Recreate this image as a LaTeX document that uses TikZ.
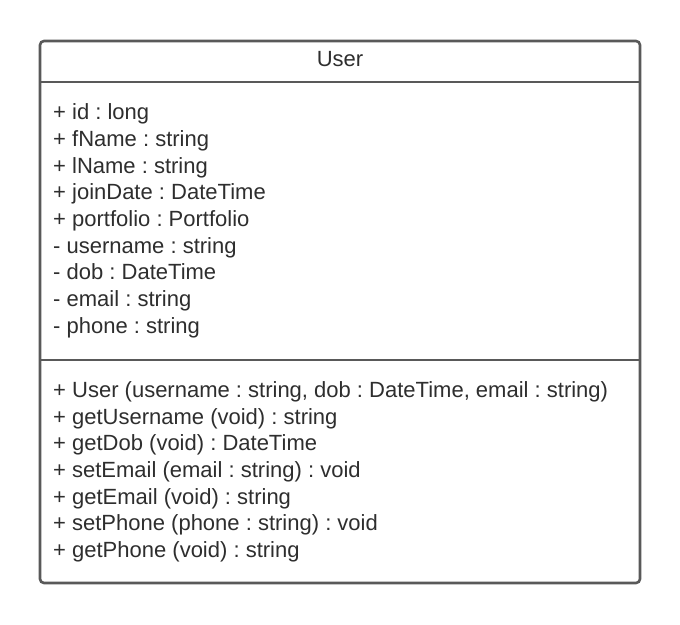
\documentclass[tikz,border=0pt]{standalone}
\usepackage{fontspec}
\setmainfont{Liberation Sans}
\frenchspacing
\begin{document}
\begin{tikzpicture}[x=1pt,y=-1pt,
  frame/.style={draw=black!65,line width=2.6pt,rounded corners=4pt},
  sep/.style={draw=black!65,line width=2.6pt},
  row/.style={anchor=base west,inner sep=0pt,text=black!82,font=\fontsize{22}{24}\selectfont},
  ttl/.style={anchor=base,inner sep=0pt,text=black!82,font=\fontsize{22}{24}\selectfont}]
\useasboundingbox (0,0) rectangle (680,624);
\path[frame,fill=white] (40,41) rectangle (640,583);
\coordinate (d1l) at (40,82); \coordinate (d1r) at (640,82);
\coordinate (d2l) at (40,360); \coordinate (d2r) at (640,360);
\draw[sep] (d1l) -- (d1r);
\draw[sep] (d2l) -- (d2r);
\node[ttl] (title) at (340,66) {User};
\node[row] (a1) at (53,119) {+ id : long};
\node[row] (a2) at (53,146) {+ fName : string};
\node[row] (a3) at (53,173) {+ lName : string};
\node[row] (a4) at (53,199) {+ joinDate : DateTime};
\node[row] (a5) at (53,226) {+ portfolio : Portfolio};
\node[row] (a6) at (53,253) {- username : string};
\node[row] (a7) at (53,279) {- dob : DateTime};
\node[row] (a8) at (53,306) {- email : string};
\node[row] (a9) at (53,333) {- phone : string};
\node[row] (m1) at (53,397) {+ User (username : string, dob : DateTime, email : string)};
\node[row] (m2) at (53,424) {+ getUsername (void) : string};
\node[row] (m3) at (53,450) {+ getDob (void) : DateTime};
\node[row] (m4) at (53,477) {+ setEmail (email : string) : void};
\node[row] (m5) at (53,504) {+ getEmail (void) : string};
\node[row] (m6) at (53,530) {+ setPhone (phone : string) : void};
\node[row] (m7) at (53,557) {+ getPhone (void) : string};
\end{tikzpicture}
\end{document}
